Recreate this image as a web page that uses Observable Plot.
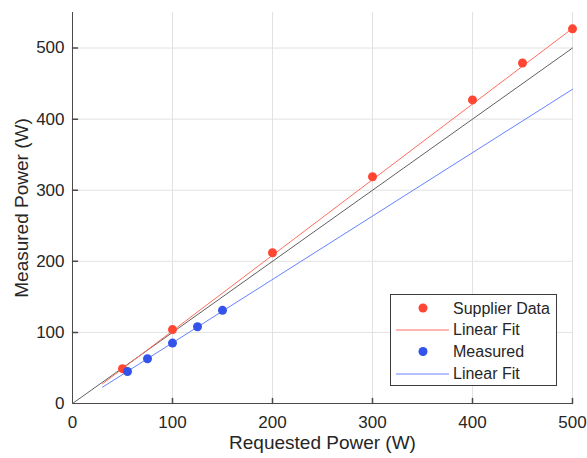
<!DOCTYPE html>
<html><head><meta charset="utf-8">
<script src="https://cdn.jsdelivr.net/npm/d3@7"></script>
<script src="https://cdn.jsdelivr.net/npm/@observablehq/plot@0.6"></script>
<style>body{margin:0;background:#fff}</style>
</head><body><div id="chart"></div>
<script>
// Data
const supplierReq = [50, 100, 200, 300, 400, 450, 500];
const supplierMeas = [49, 104, 212, 319, 427, 479, 527];
const measuredReq = [55, 75, 100, 125, 150];
const measuredMeas = [45, 63, 85, 108, 131];
const fitReq = [30, 500];
const supplierFit = [27.7, 527.6];
const measuredFit = [22.9, 442];
const idealReq = [0, 500];
const idealMeas = [0, 500];
const xTicks = [0, 100, 200, 300, 400, 500];
const yTicks = [0, 100, 200, 300, 400, 500];
const legendLabels = ["Supplier Data", "Linear Fit", "Measured", "Linear Fit"];
const xLabel = "Requested Power (W)";
const yLabel = "Measured Power (W)";

const font = "'Liberation Sans', Arial, Helvetica, sans-serif";
const RED_DOT = "#ff4633", RED_LINE = "#ff6e5e", BLUE_DOT = "#3353ea", BLUE_LINE = "#6682ff";
const AX = "#4a4a4a", TXT = "#262626", GRID = "#e2e2e2";
const tickShape = {draw(ctx, l) { ctx.moveTo(0, 0); ctx.lineTo(0, -l); }};

const plot = Plot.plot({
  width: 587, height: 458,
  marginLeft: 72, marginRight: 15, marginTop: 12, marginBottom: 55,
  style: {fontFamily: font, background: "#fff", color: TXT},
  x: {domain: [0, 500]},
  y: {domain: [0, 550]},
  marks: [
    Plot.gridX(xTicks.slice(1), {stroke: GRID, strokeOpacity: 1}),
    Plot.gridY(yTicks.slice(1), {stroke: GRID, strokeOpacity: 1}),
    Plot.axisX(xTicks, {tickSize: 0, tickPadding: 12.5, fontSize: 17, label: null, fill: TXT}),
    Plot.axisY(yTicks, {tickSize: 0, tickPadding: 8, fontSize: 17, label: null, fill: TXT}),
    Plot.vector(xTicks.slice(1), {x: d => d, frameAnchor: "bottom", anchor: "start", length: 5, rotate: 0, shape: tickShape, stroke: AX}),
    Plot.vector(yTicks.slice(1), {y: d => d, frameAnchor: "left", anchor: "start", length: 5, rotate: 90, shape: tickShape, stroke: AX}),
    Plot.ruleX([0], {stroke: AX}),
    Plot.ruleY([0], {stroke: AX}),
    Plot.line(idealReq, {x: d => d, y: (d, i) => idealMeas[i], stroke: "#606060", strokeWidth: 1}),
    Plot.line(fitReq, {x: d => d, y: (d, i) => supplierFit[i], stroke: RED_LINE, strokeWidth: 1}),
    Plot.line(fitReq, {x: d => d, y: (d, i) => measuredFit[i], stroke: BLUE_LINE, strokeWidth: 1}),
    Plot.dot(supplierReq, {x: d => d, y: (d, i) => supplierMeas[i], r: 4.5, fill: RED_DOT}),
    Plot.dot(measuredReq, {x: d => d, y: (d, i) => measuredMeas[i], r: 4.5, fill: BLUE_DOT}),
    Plot.text([xLabel], {text: d => d, frameAnchor: "bottom", textAnchor: "middle", dy: 45, fontSize: 19, fill: TXT}),
    Plot.text([yLabel], {text: d => d, frameAnchor: "left", textAnchor: "middle", dx: -51, rotate: -90, fontSize: 19, fill: TXT})
  ]
});
document.getElementById("chart").append(plot);

// Legend inside the plot area (upper-left corner of box at 390,294)
const svg = d3.select(plot);
const lg = svg.append("g").attr("transform", "translate(390,294)").style("font-family", font);
lg.append("rect").attr("x", 0.5).attr("y", 0.5).attr("width", 166).attr("height", 91)
  .style("fill", "#fff").style("stroke", "#3a3a3a").style("stroke-width", "1px");
const rowY = [14, 35.5, 57.5, 79.5];
const kinds = [["dot", RED_DOT], ["line", RED_LINE], ["dot", BLUE_DOT], ["line", BLUE_LINE]];
kinds.forEach(([k, c], i) => {
  if (k === "dot") lg.append("circle").attr("cx", 33).attr("cy", rowY[i]).attr("r", 4.5).style("fill", c).style("stroke", "none");
  else lg.append("path").attr("d", `M6,${Math.round(rowY[i])}H59`).style("fill", "none").style("stroke", c).style("stroke-width", "1px");
  lg.append("text").attr("x", 63).attr("y", rowY[i]).attr("dy", "0.35em").attr("text-anchor", "start")
    .attr("font-size", 16).style("fill", TXT).text(legendLabels[i]);
});
</script>
</body></html>
